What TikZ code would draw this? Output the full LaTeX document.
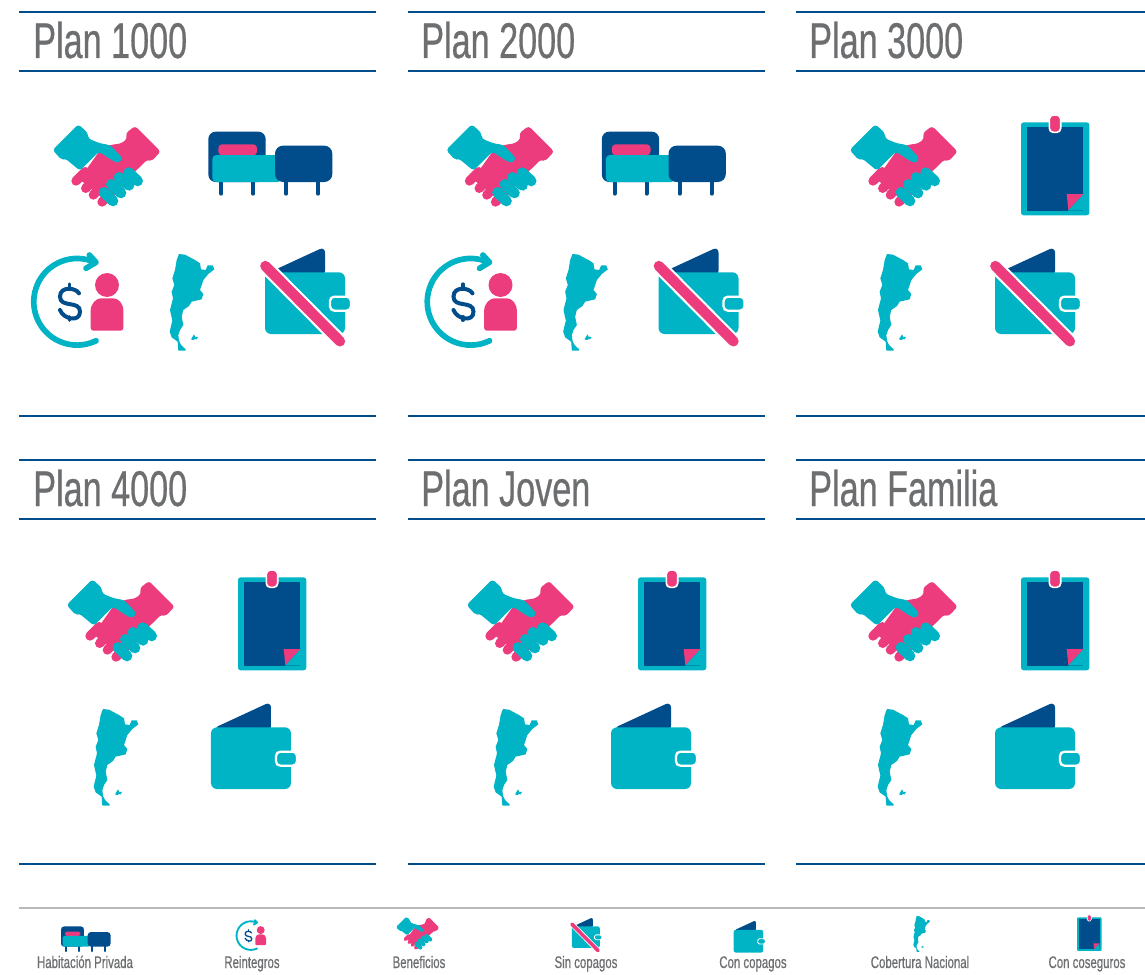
\documentclass[tikz,border=0pt]{standalone}
\usepackage{fontspec}
\newfontfamily\titlefont[FakeStretch=0.68,FakeBold=0.5]{Liberation Sans}
\newfontfamily\legendfont[FakeStretch=0.68,FakeBold=0.6]{Liberation Sans}
\definecolor{teal1}{HTML}{00B4C5}
\definecolor{pink1}{HTML}{EC3C7D}
\definecolor{navy1}{HTML}{014C8A}
\definecolor{gray1}{HTML}{6D6E70}
\tikzset{
  iconsize/.style={scale=#1/3, /utils/exec={\pgfmathsetlengthmacro\iconunit{0.25pt*#1}}},
  handsicon/.pic={
    \fill[pink1, rounded corners=9*\iconunit] (345,78) -- (422,155) -- (394,184) -- (383,178) -- (345,215) -- (262,305) -- (230,280) -- (207,260) -- (178,238) -- (237,155) -- (270,135) -- (305,130) -- (322,115) -- (317,100) -- cycle;
    \foreach \xa/\ya in {168/243, 197/265, 220/285, 246/306}
      \draw[pink1, line cap=round, line width=28*\iconunit] (\xa,\ya) -- ++(28,-28);
    \fill[teal1, rounded corners=9*\iconunit] (175,73) -- (203,98) -- (205,116) -- (240,130) -- (270,135) -- (308,175) -- (295,190) -- (278,182) -- (237,155) -- (180,212) -- (135,175) -- (125,180) -- (98,150) -- cycle;
    \foreach \xa/\ya/\xb/\yb in {252/277/279/303, 274/253/303/279, 297/232/327/256, 326/218/353/243}
      \draw[teal1, line cap=round, line width=32*\iconunit] (\xa,\ya) -- (\xb,\yb);
  },
  bedicon/.pic={
    \fill[navy1, rounded corners=22*\iconunit] (565,95) rectangle (737,246);
    \fill[pink1, rounded corners=11*\iconunit] (595,133) rectangle (711,166);
    \foreach \xa in {604,699,798,894}
      \draw[navy1, line cap=round, line width=12*\iconunit] (\xa,240) -- (\xa,281);
    \fill[teal1, rounded corners=12*\iconunit] (577,165) rectangle (785,246);
    \fill[navy1, rounded corners=24*\iconunit] (765,137) rectangle (937,246);
  },
  refundicon/.pic={
    \draw[teal1, line cap=round, line join=round, line width=17*\iconunit] (225,487) arc[start angle=-65.6, end angle=-296, radius=130];
    \draw[teal1, line cap=round, line join=round, line width=17*\iconunit] (208,465) -- (228,487) -- (198,505);
    \draw[navy1, line cap=round, line width=12*\iconunit] (177,580) .. controls (168,563) and (120,557) .. (120,590) .. controls (120,625) and (180,600) .. (180,635) .. controls (180,668) and (130,658) .. (120,630);
    \draw[navy1, line cap=round, line width=10*\iconunit] (148,552) -- (148,562) (148,650) -- (148,661);
    \fill[pink1] (261,555) circle[radius=36];
    \fill[pink1, rounded corners=8*\iconunit] (212,692) -- (212,640) .. controls (212,610) and (230,595) .. (250,595) -- (272,595) .. controls (295,595) and (310,610) .. (310,640) -- (310,692) -- cycle;
  },
  mapicon/.pic={
    \fill[teal1] (477,462) -- (495,464) -- (510,472) -- (525,480) -- (540,490) -- (543,508) -- (557,510) -- (563,496) -- (578,496) -- (583,508) -- (565,522) -- (550,540) -- (540,570) -- (550,582) -- (545,598) -- (515,605) -- (507,618) -- (490,630) -- (485,650) -- (490,675) -- (480,690) -- (475,705) -- (477,722) -- (483,735) -- (497,748) -- (497,752) -- (475,752) -- (473,725) -- (455,712) -- (449,695) -- (457,662) -- (450,630) -- (459,595) -- (455,575) -- (463,555) -- (457,535) -- (465,510) -- (470,480) -- cycle;
    \fill[teal1] (513,718) -- (522,703) -- (528,716) -- (520,720) -- cycle (527,710) -- (534,711) -- (529,719) -- cycle;
  },
  walleticon/.pic={
    \fill[navy1, rounded corners=18*\iconunit] (742,520) -- (915,440) -- (915,530) -- cycle;
    \fill[teal1, rounded corners=18*\iconunit] (735,517) rectangle (975,702);
    \fill[teal1, draw=white, line width=7*\iconunit, rounded corners=13*\iconunit] (930,590) rectangle (993,632);
  },
  slashicon/.pic={
    \draw[white, line width=44*\iconunit] (712,474) -- (968,732);
    \draw[pink1, line cap=round, line width=31*\iconunit] (736,498) -- (960,724);
  },
  boardicon/.pic={
    \fill[teal1, rounded corners=8*\iconunit] (63,37) rectangle (268,316);
    \fill[navy1] (80,50) rectangle (250,302);
    \fill[teal1] (250,252) -- (250,302) -- (203,302) -- cycle;
    \fill[pink1] (200,252) -- (250,252) -- (205,300) -- cycle;
    \fill[pink1, draw=white, line width=5*\iconunit, rounded corners=12*\iconunit] (148,15) rectangle (182,67);
  },
  titlenode/.style={anchor=base west, inner sep=0pt, text=gray1, font=\titlefont\fontsize{37.7}{38}\selectfont},
  legendnode/.style={anchor=base, inner sep=0pt, text=gray1, font=\legendfont\fontsize{12.6}{14}\selectfont},
  planline/.style={draw=navy1, line width=1.5pt},
}
\begin{document}
\begin{tikzpicture}[x=0.75pt, y=-0.75pt]
  \useasboundingbox (0,0) rectangle (1145,974);

  % panel rules
  \foreach \xa/\xb in {19/376, 408/765, 796/1145}
    \foreach \ya in {12, 71, 416, 460, 519, 864}
      \draw[planline] (\xa,\ya) -- (\xb,\ya);
  \draw[draw=gray!55, line width=2.2pt] (19,908) -- (1145,908);

  % titles
  \node[titlenode] (plan1) at (33,58) {Plan 1000};
  \node[titlenode] (plan2) at (421,58) {Plan 2000};
  \node[titlenode] (plan3) at (809,58) {Plan 3000};
  \node[titlenode] (plan4) at (33,506) {Plan 4000};
  \node[titlenode] (plan5) at (421,506) {Plan Joven};
  \node[titlenode] (plan6) at (809,506) {Plan Familia};

  % plan 1000
  \pic[iconsize=1] at (20,100) {handsicon};
  \pic[iconsize=1] at (20,100) {bedicon};
  \pic[iconsize=1] at (20,100) {refundicon};
  \pic[iconsize=1] at (20,100) {mapicon};
  \pic[iconsize=1] at (20,100) {walleticon};
  \pic[iconsize=1] at (20,100) {slashicon};

  % plan 2000
  \pic[iconsize=1] at (413.5,100) {handsicon};
  \pic[iconsize=1] at (413.5,100) {bedicon};
  \pic[iconsize=1] at (413.5,100) {refundicon};
  \pic[iconsize=1] at (413.5,100) {mapicon};
  \pic[iconsize=1] at (413.5,100) {walleticon};
  \pic[iconsize=1] at (413.5,100) {slashicon};

  % plan 3000
  \pic[iconsize=1] at (817,100) {handsicon};
  \pic[iconsize=1] at (1000,110) {boardicon};
  \pic[iconsize=1] at (728,100) {mapicon};
  \pic[iconsize=1] at (750,100) {walleticon};
  \pic[iconsize=1] at (750,100) {slashicon};

  % plan 4000
  \pic[iconsize=1] at (34,555) {handsicon};
  \pic[iconsize=1] at (217,565) {boardicon};
  \pic[iconsize=1] at (-56,555) {mapicon};
  \pic[iconsize=1] at (-34,555) {walleticon};

  % plan joven
  \pic[iconsize=1] at (434,555) {handsicon};
  \pic[iconsize=1] at (617,565) {boardicon};
  \pic[iconsize=1] at (344,555) {mapicon};
  \pic[iconsize=1] at (366,555) {walleticon};

  % plan familia
  \pic[iconsize=1] at (817,555) {handsicon};
  \pic[iconsize=1] at (1000,565) {boardicon};
  \pic[iconsize=1] at (728,555) {mapicon};
  \pic[iconsize=1] at (750,555) {walleticon};

  % legend
  \pic[iconsize=0.4] at (-14.3,913.8) {bedicon};
  \pic[iconsize=0.33] at (232,869) {refundicon};
  \pic[iconsize=0.4] at (383,907) {handsicon};
  \pic[iconsize=0.35] at (486,866) {walleticon};
  \pic[iconsize=0.35] at (486,866) {slashicon};
  \pic[iconsize=0.37] at (643,866) {walleticon};
  \pic[iconsize=0.37] at (858,859) {mapicon};
  \pic[iconsize=0.36] at (1069.5,913) {boardicon};
  \node[legendnode] (habitacion) at (85,968) {Habitación Privada};
  \node[legendnode] (reintegros) at (252,968) {Reintegros};
  \node[legendnode] (beneficios) at (419,968) {Beneficios};
  \node[legendnode] (sincopagos) at (586,968) {Sin copagos};
  \node[legendnode] (concopagos) at (753,968) {Con copagos};
  \node[legendnode] (cobertura) at (920,968) {Cobertura Nacional};
  \node[legendnode] (coseguros) at (1087,968) {Con coseguros};
\end{tikzpicture}
\end{document}
